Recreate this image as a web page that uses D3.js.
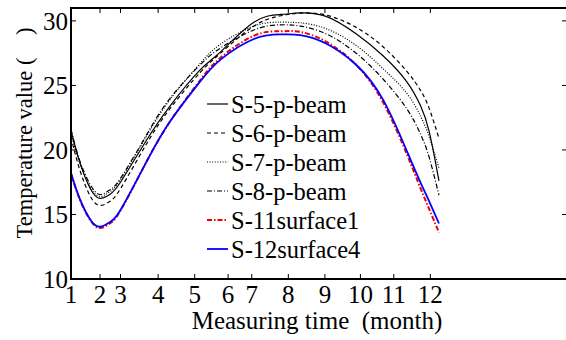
<!DOCTYPE html>
<html>
<head>
<meta charset="utf-8">
<script src="https://cdn.jsdelivr.net/npm/d3@7"></script>
<style>
  body { margin: 0; background: #fff; }
  text { font-family: "Liberation Serif", "Times New Roman", serif; fill: #000; }
</style>
</head>
<body>
<div id="chart"></div>
<script>
// time axis in days from the first measurement
const monthLabels = ['1', '2', '3', '4', '5', '6', '7', '8', '9', '10', '11', '12']
const monthDays   = [0, 27, 46, 81, 115, 146, 168, 202, 236, 269, 300, 334]

const sampleDays = [0, 8, 18, 27, 36, 46, 69, 92, 120, 139, 170, 195, 213, 237, 265, 290, 312, 325, 333, 342]

const s5  = [21.5, 19.1, 17.0, 16.25, 16.55, 17.5, 20.6, 23.4, 26.2, 27.6, 29.9, 30.5, 30.62, 30.35, 29.0, 27.3, 25.3, 23.4, 21.4, 17.6]
const s6  = [21.0, 18.5, 16.4, 15.7, 16.0, 17.0, 20.3, 23.2, 26.0, 27.5, 29.6, 30.4, 30.6, 30.45, 29.5, 28.0, 26.1, 24.6, 23.2, 20.9]
const s7  = [21.3, 19.0, 17.1, 16.4, 16.75, 17.7, 20.9, 23.9, 26.7, 28.2, 29.6, 29.9, 29.85, 29.4, 28.1, 26.3, 24.4, 22.6, 21.0, 18.6]
const s8  = [21.6, 19.2, 17.3, 16.55, 16.9, 17.8, 21.0, 24.0, 26.6, 27.9, 29.3, 29.7, 29.6, 29.0, 27.5, 25.5, 23.2, 21.2, 19.4, 16.5]
const s11 = [18.2, 16.2, 14.55, 13.95, 14.3, 15.3, 18.9, 22.2, 25.4, 27.15, 28.85, 29.2, 29.15, 28.4, 26.6, 23.7, 19.7, 17.0, 15.4, 13.6]
const s12 = [18.2, 16.25, 14.6, 14.05, 14.4, 15.35, 18.9, 22.2, 25.3, 27.0, 28.6, 28.95, 28.9, 28.25, 26.6, 23.9, 19.95, 17.45, 16.0, 14.3]

const seriesNames = ['S-5-p-beam', 'S-6-p-beam', 'S-7-p-beam', 'S-8-p-beam', 'S-11surface1', 'S-12surface4']
const seriesValues = [s5, s6, s7, s8, s11, s12]
const yTicks = [10, 15, 20, 25, 30]

const styles = [
  { color: '#000', width: 1.2, dash: null },
  { color: '#000', width: 1.2, dash: '4,3' },
  { color: '#000', width: 1.2, dash: '1,1.6' },
  { color: '#000', width: 1.2, dash: '5,2,1,2' },
  { color: '#e00', width: 2, dash: '5,2,1.5,2' },
  { color: '#00f', width: 1.8, dash: null }
]

const width = 566
const height = 340
const margin = { top: 8, right: -1, bottom: 61, left: 71 }

const svg = d3.select('#chart')
  .append('svg')
  .attr('width', width)
  .attr('height', height)

const x = d3.scaleLinear()
  .domain([0, 461])
  .range([margin.left, width - margin.right])

const y = d3.scaleLinear()
  .domain([10, 31])
  .range([height - margin.bottom, margin.top])

const x0 = x.range()[0], x1 = x.range()[1]
const y0 = y.range()[0], y1 = y.range()[1]

// ticks, inward on all four sides
const tickLen = 5
const ticks = svg.append('g').attr('stroke', '#000').attr('stroke-width', 1)
monthDays.forEach(d => {
  ticks.append('line').attr('x1', x(d)).attr('x2', x(d)).attr('y1', y0).attr('y2', y0 - tickLen)
  ticks.append('line').attr('x1', x(d)).attr('x2', x(d)).attr('y1', y1).attr('y2', y1 + tickLen)
})
yTicks.forEach(v => {
  ticks.append('line').attr('x1', x0).attr('x2', x0 + tickLen).attr('y1', y(v)).attr('y2', y(v))
  ticks.append('line').attr('x1', x1).attr('x2', x1 - tickLen).attr('y1', y(v)).attr('y2', y(v))
})

// tick labels
svg.append('g')
  .selectAll('text')
  .data(monthDays)
  .enter()
  .append('text')
    .attr('x', d => x(d))
    .attr('y', y0 + 24)
    .attr('text-anchor', 'middle')
    .attr('font-size', '25px')
    .text((d, i) => monthLabels[i])

svg.append('g')
  .selectAll('text')
  .data(yTicks)
  .enter()
  .append('text')
    .attr('x', x0 - 3)
    .attr('y', d => y(d))
    .attr('dy', '.35em')
    .attr('text-anchor', 'end')
    .attr('font-size', '25px')
    .text(d => d)

// curves
const line = d3.line()
  .x((d, i) => x(sampleDays[i]))
  .y(d => y(d))
  .curve(d3.curveNatural)

const curves = svg.append('g').attr('fill', 'none')
seriesValues.forEach((vals, i) => {
  curves.append('path')
    .attr('d', line(vals))
    .attr('stroke', styles[i].color)
    .attr('stroke-width', styles[i].width)
    .attr('stroke-dasharray', styles[i].dash)
})

// box
svg.append('rect')
  .attr('x', x0)
  .attr('y', y1)
  .attr('width', x1 - x0)
  .attr('height', y0 - y1)
  .attr('fill', 'none')
  .attr('stroke', '#000')
  .attr('stroke-width', 2)

// legend
const legend = svg.append('g').attr('transform', 'translate(207, 104)')
seriesNames.forEach((name, i) => {
  const row = legend.append('g').attr('transform', `translate(0, ${i * 29})`)
  row.append('line')
    .attr('x1', 0).attr('x2', 21)
    .attr('stroke', styles[i].color)
    .attr('stroke-width', styles[i].width)
    .attr('stroke-dasharray', styles[i].dash)
  row.append('text')
    .attr('x', 24)
    .attr('dy', '.35em')
    .attr('font-size', '24.5px')
    .text(name)
})

// axis titles
svg.append('text')
  .attr('x', 317)
  .attr('y', 329)
  .attr('text-anchor', 'middle')
  .attr('font-size', '25px')
  .text('Measuring time\u00a0 (month)')

svg.append('text')
  .attr('transform', 'translate(32, 133) rotate(-90)')
  .attr('text-anchor', 'middle')
  .attr('font-size', '22.5px')
  .text('Temperature value (\u00a0\u00a0\u00a0\u00a0)')
</script>
</body>
</html>
